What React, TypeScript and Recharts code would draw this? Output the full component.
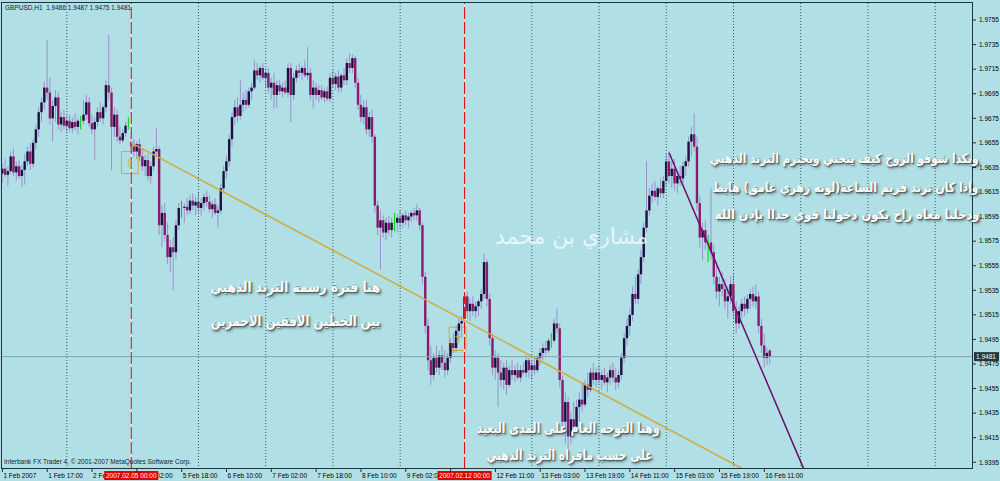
import React from 'react';
import { ComposedChart, Bar, XAxis, YAxis, ReferenceLine, ReferenceArea } from 'recharts';

// GBPUSD H1, 1 Feb 01:00 .. 16 Feb 13:00 (one entry per hourly bar)
const opens = [
  1.9630, 1.9634, 1.9629, 1.9632, 1.9644, 1.9631, 1.9636, 1.9628, 1.9633, 1.9640, 1.9648, 1.9638, 1.9655, 1.9666, 1.9680, 1.9688,
  1.9700, 1.9696, 1.9675, 1.9685, 1.9692, 1.9670, 1.9676, 1.9669, 1.9673, 1.9667, 1.9672, 1.9668, 1.9673, 1.9673, 1.9678, 1.9688,
  1.9671, 1.9666, 1.9672, 1.9680, 1.9675, 1.9684, 1.9702, 1.9696, 1.9668, 1.9678, 1.9660, 1.9657, 1.9663, 1.9669,
  1.9656, 1.9652, 1.9648, 1.9654, 1.9644, 1.9636, 1.9641, 1.9628, 1.9636, 1.9648, 1.9650, 1.9588, 1.9598, 1.9580, 1.9562, 1.9570,
  1.9566, 1.9588, 1.9602, 1.9602, 1.9603, 1.9600, 1.9608, 1.9604,
  1.9607, 1.9602, 1.9606, 1.9611, 1.9607, 1.9601, 1.9605, 1.9598, 1.9600, 1.9618, 1.9632, 1.9640, 1.9658, 1.9676, 1.9684, 1.9677,
  1.9686, 1.9690, 1.9686, 1.9697, 1.9700, 1.9714, 1.9710, 1.9716,
  1.9708, 1.9712, 1.9700, 1.9704, 1.9694, 1.9702, 1.9697, 1.9700, 1.9696, 1.9716, 1.9694, 1.9708, 1.9714, 1.9712, 1.9716, 1.9710,
  1.9712, 1.9694, 1.9700, 1.9694, 1.9698, 1.9692, 1.9697, 1.9691,
  1.9708, 1.9703, 1.9709, 1.9700, 1.9710, 1.9706, 1.9720, 1.9716, 1.9724, 1.9704, 1.9686, 1.9676, 1.9684, 1.9666, 1.9676, 1.9660,
  1.9604, 1.9586, 1.9592, 1.9582, 1.9590, 1.9584, 1.9590, 1.9590,
  1.9594, 1.9590, 1.9596, 1.9592, 1.9595, 1.9598, 1.9596, 1.9600, 1.9588, 1.9546, 1.9506, 1.9478, 1.9466, 1.9480, 1.9472, 1.9482,
  1.9476, 1.9470, 1.9480, 1.9492, 1.9488, 1.9502, 1.9508,
  1.9512, 1.9530, 1.9518, 1.9524, 1.9518, 1.9522, 1.9526, 1.9532, 1.9558, 1.9528, 1.9496, 1.9472, 1.9480, 1.9468, 1.9462, 1.9472,
  1.9458, 1.9470, 1.9466, 1.9470, 1.9464, 1.9470, 1.9468, 1.9478,
  1.9470, 1.9474, 1.9470, 1.9480, 1.9484, 1.9488, 1.9486, 1.9494, 1.9494, 1.9508, 1.9504, 1.9462, 1.9428, 1.9444, 1.9416, 1.9430,
  1.9424, 1.9440, 1.9446, 1.9442, 1.9458, 1.9454, 1.9468, 1.9462,
  1.9468, 1.9462, 1.9466, 1.9460, 1.9464, 1.9470, 1.9464, 1.9460, 1.9466, 1.9480, 1.9496, 1.9506, 1.9515, 1.9532, 1.9528, 1.9548,
  1.9562, 1.9586, 1.9600, 1.9612, 1.9616, 1.9611, 1.9618, 1.9614,
  1.9624, 1.9640, 1.9628, 1.9634, 1.9622, 1.9628, 1.9626, 1.9636, 1.9640, 1.9656, 1.9662, 1.9652, 1.9606, 1.9578, 1.9584, 1.9574,
  1.9574, 1.9566, 1.9546, 1.9534, 1.9540, 1.9536, 1.9526, 1.9530,
  1.9540, 1.9518, 1.9508, 1.9518, 1.9524, 1.9520, 1.9528, 1.9532, 1.9526, 1.9530, 1.9506, 1.9490, 1.9480, 1.9486,
];
const highs = [
  1.9638, 1.9642, 1.9636, 1.9648, 1.9650, 1.9640, 1.9641, 1.9637, 1.9646, 1.9652, 1.9655, 1.9658, 1.9670, 1.9684, 1.9692, 1.9705,
  1.9739, 1.9708, 1.9690, 1.9698, 1.9696, 1.9680, 1.9682, 1.9677, 1.9678, 1.9676, 1.9679, 1.9675, 1.9677, 1.9690, 1.9694, 1.9692,
  1.9678, 1.9676, 1.9684, 1.9688, 1.9686, 1.9706, 1.9743, 1.9700, 1.9684, 1.9682, 1.9668, 1.9666, 1.9672, 1.9676,
  1.9660, 1.9658, 1.9656, 1.9658, 1.9650, 1.9645, 1.9646, 1.9640, 1.9652, 1.9667, 1.9652, 1.9604, 1.9606, 1.9590, 1.9576, 1.9578,
  1.9592, 1.9606, 1.9608, 1.9606, 1.9610, 1.9612, 1.9614, 1.9611,
  1.9615, 1.9610, 1.9614, 1.9616, 1.9612, 1.9608, 1.9610, 1.9604, 1.9622, 1.9636, 1.9645, 1.9662, 1.9680, 1.9690, 1.9692, 1.9706,
  1.9696, 1.9698, 1.9700, 1.9704, 1.9722, 1.9720, 1.9718, 1.9720,
  1.9716, 1.9716, 1.9708, 1.9712, 1.9706, 1.9706, 1.9704, 1.9706, 1.9720, 1.9720, 1.9712, 1.9718, 1.9720, 1.9718, 1.9722, 1.9733,
  1.9716, 1.9706, 1.9704, 1.9702, 1.9702, 1.9700, 1.9701, 1.9712,
  1.9714, 1.9712, 1.9714, 1.9712, 1.9716, 1.9724, 1.9728, 1.9727, 1.9726, 1.9708, 1.9694, 1.9690, 1.9690, 1.9680, 1.9682, 1.9662,
  1.9608, 1.9600, 1.9596, 1.9594, 1.9596, 1.9594, 1.9598, 1.9597,
  1.9600, 1.9598, 1.9600, 1.9598, 1.9600, 1.9602, 1.9605, 1.9602, 1.9590, 1.9550, 1.9512, 1.9490, 1.9484, 1.9490, 1.9486, 1.9490,
  1.9486, 1.9484, 1.9496, 1.9500, 1.9506, 1.9512, 1.9514,
  1.9540, 1.9534, 1.9528, 1.9530, 1.9526, 1.9528, 1.9536, 1.9565, 1.9560, 1.9532, 1.9500, 1.9486, 1.9484, 1.9478, 1.9476, 1.9478,
  1.9474, 1.9478, 1.9474, 1.9476, 1.9474, 1.9476, 1.9482, 1.9480,
  1.9478, 1.9480, 1.9482, 1.9488, 1.9492, 1.9494, 1.9496, 1.9500, 1.9512, 1.9520, 1.9508, 1.9466, 1.9452, 1.9448, 1.9436, 1.9444,
  1.9446, 1.9452, 1.9460, 1.9462, 1.9468, 1.9472, 1.9476, 1.9472,
  1.9474, 1.9470, 1.9472, 1.9468, 1.9474, 1.9476, 1.9472, 1.9470, 1.9484, 1.9500, 1.9512, 1.9520, 1.9538, 1.9546, 1.9552, 1.9568,
  1.9590, 1.9640, 1.9618, 1.9622, 1.9624, 1.9620, 1.9626, 1.9628,
  1.9646, 1.9648, 1.9640, 1.9642, 1.9632, 1.9636, 1.9640, 1.9644, 1.9660, 1.9668, 1.9679, 1.9660, 1.9612, 1.9590, 1.9592, 1.9580,
  1.9618, 1.9572, 1.9556, 1.9546, 1.9550, 1.9544, 1.9538, 1.9546,
  1.9548, 1.9526, 1.9522, 1.9528, 1.9530, 1.9532, 1.9536, 1.9538, 1.9540, 1.9534, 1.9512, 1.9500, 1.9488, 1.9487,
];
const lows = [
  1.9622, 1.9627, 1.9620, 1.9630, 1.9628, 1.9624, 1.9626, 1.9619, 1.9621, 1.9636, 1.9633, 1.9635, 1.9650, 1.9660, 1.9672, 1.9682,
  1.9690, 1.9670, 1.9656, 1.9672, 1.9666, 1.9664, 1.9666, 1.9664, 1.9665, 1.9663, 1.9665, 1.9662, 1.9666, 1.9670, 1.9674, 1.9668,
  1.9662, 1.9641, 1.9668, 1.9672, 1.9670, 1.9680, 1.9690, 1.9633, 1.9660, 1.9656, 1.9654, 1.9655, 1.9660, 1.9666,
  1.9648, 1.9644, 1.9642, 1.9640, 1.9632, 1.9628, 1.9624, 1.9622, 1.9632, 1.9644, 1.9580, 1.9570, 1.9575, 1.9556, 1.9550, 1.9535,
  1.9560, 1.9584, 1.9594, 1.9590, 1.9596, 1.9597, 1.9600, 1.9596,
  1.9598, 1.9596, 1.9600, 1.9603, 1.9598, 1.9594, 1.9596, 1.9586, 1.9597, 1.9614, 1.9626, 1.9636, 1.9652, 1.9670, 1.9672, 1.9674,
  1.9680, 1.9682, 1.9684, 1.9690, 1.9698, 1.9706, 1.9704, 1.9706,
  1.9700, 1.9696, 1.9690, 1.9683, 1.9684, 1.9694, 1.9692, 1.9694, 1.9692, 1.9672, 1.9690, 1.9704, 1.9708, 1.9706, 1.9708, 1.9706,
  1.9690, 1.9683, 1.9690, 1.9688, 1.9690, 1.9688, 1.9689, 1.9688,
  1.9700, 1.9698, 1.9696, 1.9696, 1.9702, 1.9702, 1.9712, 1.9712, 1.9700, 1.9682, 1.9672, 1.9670, 1.9662, 1.9660, 1.9655, 1.9598,
  1.9580, 1.9552, 1.9578, 1.9576, 1.9580, 1.9578, 1.9583, 1.9582,
  1.9586, 1.9586, 1.9588, 1.9586, 1.9590, 1.9592, 1.9592, 1.9584, 1.9540, 1.9500, 1.9470, 1.9458, 1.9462, 1.9468, 1.9466, 1.9470,
  1.9464, 1.9466, 1.9476, 1.9484, 1.9484, 1.9494, 1.9496,
  1.9508, 1.9512, 1.9510, 1.9514, 1.9512, 1.9514, 1.9520, 1.9528, 1.9522, 1.9490, 1.9466, 1.9462, 1.9440, 1.9456, 1.9454, 1.9450,
  1.9456, 1.9462, 1.9460, 1.9462, 1.9460, 1.9466, 1.9464, 1.9464,
  1.9462, 1.9466, 1.9468, 1.9474, 1.9478, 1.9482, 1.9484, 1.9488, 1.9492, 1.9500, 1.9456, 1.9420, 1.9410, 1.9402, 1.9410, 1.9418,
  1.9420, 1.9428, 1.9436, 1.9440, 1.9448, 1.9452, 1.9458, 1.9456,
  1.9458, 1.9454, 1.9458, 1.9452, 1.9458, 1.9460, 1.9454, 1.9456, 1.9462, 1.9476, 1.9490, 1.9498, 1.9510, 1.9524, 1.9524, 1.9540,
  1.9558, 1.9582, 1.9596, 1.9606, 1.9608, 1.9604, 1.9610, 1.9610,
  1.9620, 1.9622, 1.9618, 1.9616, 1.9614, 1.9620, 1.9622, 1.9628, 1.9636, 1.9644, 1.9648, 1.9600, 1.9570, 1.9560, 1.9568, 1.9558,
  1.9560, 1.9540, 1.9528, 1.9522, 1.9530, 1.9520, 1.9512, 1.9524,
  1.9512, 1.9500, 1.9504, 1.9512, 1.9514, 1.9516, 1.9520, 1.9522, 1.9520, 1.9500, 1.9484, 1.9472, 1.9474, 1.9475,
];
const closes = [
  1.9634, 1.9629, 1.9632, 1.9644, 1.9631, 1.9636, 1.9628, 1.9633, 1.9640, 1.9648, 1.9638, 1.9655, 1.9666, 1.9680, 1.9688, 1.9700,
  1.9696, 1.9675, 1.9685, 1.9692, 1.9670, 1.9676, 1.9669, 1.9673, 1.9667, 1.9672, 1.9668, 1.9673, 1.9673, 1.9678, 1.9688, 1.9671,
  1.9666, 1.9672, 1.9680, 1.9675, 1.9684, 1.9702, 1.9696, 1.9668, 1.9678, 1.9660, 1.9657, 1.9663, 1.9669, 1.9669,
  1.9652, 1.9648, 1.9654, 1.9644, 1.9636, 1.9641, 1.9628, 1.9636, 1.9648, 1.9650, 1.9588, 1.9598, 1.9580, 1.9562, 1.9570, 1.9566,
  1.9588, 1.9602, 1.9602, 1.9603, 1.9600, 1.9608, 1.9604, 1.9607,
  1.9602, 1.9606, 1.9611, 1.9607, 1.9601, 1.9605, 1.9598, 1.9600, 1.9618, 1.9632, 1.9640, 1.9658, 1.9676, 1.9684, 1.9677, 1.9686,
  1.9690, 1.9686, 1.9697, 1.9700, 1.9714, 1.9710, 1.9716, 1.9708,
  1.9712, 1.9700, 1.9704, 1.9694, 1.9702, 1.9697, 1.9700, 1.9696, 1.9716, 1.9694, 1.9708, 1.9714, 1.9712, 1.9716, 1.9710, 1.9712,
  1.9694, 1.9700, 1.9694, 1.9698, 1.9692, 1.9697, 1.9691, 1.9708,
  1.9703, 1.9709, 1.9700, 1.9710, 1.9706, 1.9720, 1.9716, 1.9724, 1.9704, 1.9686, 1.9676, 1.9684, 1.9666, 1.9676, 1.9660, 1.9604,
  1.9586, 1.9592, 1.9582, 1.9590, 1.9584, 1.9590, 1.9590, 1.9594,
  1.9590, 1.9596, 1.9592, 1.9595, 1.9598, 1.9596, 1.9600, 1.9588, 1.9546, 1.9506, 1.9478, 1.9466, 1.9480, 1.9472, 1.9482, 1.9476,
  1.9470, 1.9480, 1.9492, 1.9488, 1.9502, 1.9508, 1.9510,
  1.9530, 1.9518, 1.9524, 1.9518, 1.9522, 1.9526, 1.9532, 1.9558, 1.9528, 1.9496, 1.9472, 1.9480, 1.9468, 1.9462, 1.9472, 1.9458,
  1.9470, 1.9466, 1.9470, 1.9464, 1.9470, 1.9468, 1.9478, 1.9470,
  1.9474, 1.9470, 1.9480, 1.9484, 1.9488, 1.9486, 1.9494, 1.9494, 1.9508, 1.9504, 1.9462, 1.9428, 1.9444, 1.9416, 1.9430, 1.9424,
  1.9440, 1.9446, 1.9442, 1.9458, 1.9454, 1.9468, 1.9462, 1.9468,
  1.9462, 1.9466, 1.9460, 1.9464, 1.9470, 1.9464, 1.9460, 1.9466, 1.9480, 1.9496, 1.9506, 1.9515, 1.9532, 1.9528, 1.9548, 1.9562,
  1.9586, 1.9600, 1.9612, 1.9616, 1.9611, 1.9618, 1.9614, 1.9624,
  1.9640, 1.9628, 1.9634, 1.9622, 1.9628, 1.9626, 1.9636, 1.9640, 1.9656, 1.9662, 1.9652, 1.9606, 1.9578, 1.9584, 1.9574, 1.9574,
  1.9566, 1.9546, 1.9534, 1.9540, 1.9536, 1.9526, 1.9530, 1.9540,
  1.9518, 1.9508, 1.9518, 1.9524, 1.9520, 1.9528, 1.9532, 1.9526, 1.9530, 1.9506, 1.9490, 1.9480, 1.9484, 1.9481,
];

// hourly slots on the time axis, including the empty shift area on the right
const slotCount = 347;
const timeTicks = [0, 16, 32, 48, 64, 80, 96, 112, 128, 144, 160, 176, 192, 208, 224, 240, 256, 272];
const timeLabels = [
  '1 Feb 2007', '1 Feb 17:00', '2 Feb 09:00', '5 Feb 02:00', '5 Feb 18:00', '6 Feb 10:00', '7 Feb 02:00', '7 Feb 18:00',
  '8 Feb 10:00', '9 Feb 02:00', '9 Feb 18:00', '12 Feb 11:00', '13 Feb 03:00', '13 Feb 19:00', '14 Feb 11:00',
  '15 Feb 03:00', '15 Feb 19:00', '16 Feb 11:00',
];
const dayStarts = [23, 70, 94, 118, 142, 189, 213, 237, 261, 285, 309, 333];
const weekStarts = [46, 165];
const weekLabels = ['2007.02.05 00:00', '2007.02.12 00:00'];
const priceTicks = [
  1.9395, 1.9415, 1.9435, 1.9455, 1.9475, 1.9495, 1.9515, 1.9535, 1.9555, 1.9575,
  1.9595, 1.9615, 1.9635, 1.9655, 1.9675, 1.9695, 1.9715, 1.9735, 1.9755,
];
const lastPrice = 1.9481;
const goldTrend = [{ x: 46, y: 1.9655 }, { x: 264, y: 1.9390 }];
const hourTrend = [{ x: 238, y: 1.9647 }, { x: 286, y: 1.9390 }];

const data = Array.from({ length: slotCount }, (_, i) =>
  i < closes.length
    ? { i, range: [lows[i], highs[i]], open: opens[i], high: highs[i], low: lows[i], close: closes[i] }
    : { i, range: null }
);

const axisFont = 'Liberation Sans, Arial, sans-serif';
const bg = '#B0E0E6';
const plotW = 972;
const flagHalf = 27;

function Candle(props: any) {
  const { x, y, width, height, payload } = props;
  if (!payload || payload.range == null) return null;
  const { open, high, low, close } = payload;
  const top = Math.min(y, y + height);
  const h = Math.abs(height);
  const cx = x + width / 2;
  const span = high - low || 1;
  const yOf = (v: number) => top + ((high - v) / span) * h;
  const yo = yOf(open);
  const yc = yOf(close);
  const doji = open === close;
  return (
    <g>
      <line x1={cx} x2={cx} y1={top} y2={top + h} stroke={doji ? '#00d000' : '#9a90cc'} strokeWidth={1} />
      {!doji && (
        <rect
          x={cx - 1.2}
          y={Math.min(yo, yc)}
          width={2.4}
          height={Math.max(Math.abs(yc - yo), 1)}
          fill={close > open ? '#1c1040' : '#8a1a6e'}
        />
      )}
    </g>
  );
}

// labels under the red week-start flags are hidden the way the terminal does it
function TimeTick(props: any) {
  const { x, y, payload } = props;
  const k = timeTicks.indexOf(payload.value);
  if (k < 0) return null;
  const band = plotW / slotCount;
  const w = weekStarts.find((s) => Math.abs(s - payload.value) < 24);
  let clip: any = null;
  if (w !== undefined) {
    const fx = x + (w - payload.value) * band;
    if (payload.value < w) {
      if (x >= fx - flagHalf) return null;
      clip = { x: 0, w: fx - flagHalf };
    } else {
      clip = { x: fx + flagHalf, w: 1000 };
    }
  }
  const id = 'tclip' + payload.value;
  return (
    <g>
      {clip && (
        <defs>
          <clipPath id={id}>
            <rect x={clip.x} y={y - 10} width={clip.w} height={30} />
          </clipPath>
        </defs>
      )}
      <text
        x={x + 1}
        y={y + 4}
        fontSize={6.5}
        fontFamily={axisFont}
        fill="#000"
        textAnchor="start"
        clipPath={clip ? `url(#${id})` : undefined}
      >
        {timeLabels[k]}
      </text>
    </g>
  );
}

function WeekFlag(props: any) {
  const { viewBox, text } = props;
  const cx = viewBox.x;
  const bottom = viewBox.y + viewBox.height;
  return (
    <g>
      <rect x={cx - flagHalf} y={bottom + 2} width={flagHalf * 2} height={9} fill="#e00000" />
      <text x={cx} y={bottom + 9} fontSize={6.5} fontFamily={axisFont} fill="#fff" textAnchor="middle">
        {text}
      </text>
    </g>
  );
}

function PriceFlag(props: any) {
  const { viewBox } = props;
  const x = viewBox.x + viewBox.width + 1;
  const y = viewBox.y;
  return (
    <g>
      <rect x={x} y={y - 4.5} width={25} height={9} fill="#1f3a40" />
      <text x={x + 2} y={y + 2.5} fontSize={6.5} fontFamily={axisFont} fill="#fff">
        {lastPrice.toFixed(4)}
      </text>
    </g>
  );
}

function Note({ right, cy, size, squeeze = 1, children, faint }: any) {
  return (
    <div
      style={{
        position: 'absolute',
        right: 1000 - right,
        top: cy - size * 0.75,
        fontFamily: 'DejaVu Sans, sans-serif',
        fontWeight: faint ? 'normal' : 'bold',
        fontSize: size,
        lineHeight: `${size * 1.5}px`,
        color: faint ? 'rgba(255,255,255,0.72)' : '#ffffff',
        textShadow: faint ? 'none' : '1px 1px 1px #555, 2px 2px 3px rgba(0,0,0,0.45)',
        whiteSpace: 'nowrap',
        direction: 'rtl',
        transform: `scaleX(${squeeze})`,
        transformOrigin: 'right center',
        pointerEvents: 'none',
      }}
    >
      {children}
    </div>
  );
}

export default function App() {
  return (
    <div style={{ position: 'absolute', left: 0, top: 0, width: 1000, height: 481, background: bg, overflow: 'hidden' }}>
      <ComposedChart width={1000} height={481} data={data} margin={{ top: 2, right: 0, bottom: 0, left: 1 }}>
        <XAxis
          dataKey="i"
          type="category"
          ticks={timeTicks}
          interval={0}
          height={12}
          axisLine={false}
          tickSize={3}
          tickLine={{ stroke: '#203040' }}
          tick={<TimeTick />}
        />
        <YAxis
          orientation="right"
          type="number"
          domain={[1.93895, 1.97697]}
          allowDataOverflow
          ticks={priceTicks}
          interval={0}
          width={27}
          axisLine={false}
          tickSize={3}
          tickMargin={3}
          tickLine={{ stroke: '#203040' }}
          tick={{ fontSize: 6.5, fill: '#000', fontFamily: axisFont }}
          tickFormatter={(v: number) => v.toFixed(4)}
        />
        {dayStarts.map((d) => (
          <ReferenceLine key={d} x={d} stroke="#2f5a62" strokeDasharray="1 2" />
        ))}
        <ReferenceLine y={lastPrice} stroke="#8aa2a8" label={<PriceFlag />} />
        <Bar dataKey="range" shape={<Candle />} isAnimationActive={false} />
        {weekStarts.map((w) => (
          <ReferenceLine key={'w' + w} x={w} stroke="#f4e8e8" />
        ))}
        {weekStarts.map((w, k) => (
          <ReferenceLine
            key={'r' + w}
            x={w}
            stroke="#e00000"
            strokeDasharray="12 3"
            label={<WeekFlag text={weekLabels[k]} />}
          />
        ))}
        <ReferenceArea x1={43} x2={48} y1={1.9630} y2={1.9648} fill="none" stroke="#d4a838" ifOverflow="visible"
          label={{ value: '⇧', position: 'center', fill: '#d4a838', fontSize: 12 }} />
        <ReferenceArea x1={160} x2={165} y1={1.9486} y2={1.9505} fill="none" stroke="#d4a838" ifOverflow="visible"
          label={{ value: '⇧', position: 'center', fill: '#d4a838', fontSize: 12 }} />
        <ReferenceLine segment={goldTrend} stroke="#d4a838" strokeWidth={1.5} ifOverflow="hidden" />
        <ReferenceLine segment={hourTrend} stroke="#700a70" strokeWidth={1.5} ifOverflow="hidden" />
      </ComposedChart>

      <div style={{ position: 'absolute', left: 1, top: 2, width: 972, height: 467, border: '1px solid #1f3340', boxSizing: 'border-box', pointerEvents: 'none' }} />
      <div style={{ position: 'absolute', left: 5, top: 4, fontSize: 6.5, fontFamily: axisFont, color: '#102030', whiteSpace: 'pre' }}>
        GBPUSD,H1  1.9486 1.9487 1.9475 1.9481
      </div>
      <div style={{ position: 'absolute', left: 4, top: 458, fontSize: 6.5, fontFamily: axisFont, color: '#102030', whiteSpace: 'pre' }}>
        Interbank FX Trader 4, © 2001-2007 MetaQuotes Software Corp.
      </div>

      <Note right={648} cy={236} size={22} faint>مشاري بن محمد</Note>
      <Note right={380} cy={287} size={14} squeeze={0.86}>هنا فترة رسمة الترند الذهبي</Note>
      <Note right={380} cy={321} size={14} squeeze={0.83}>بين الخطين الافقين الاحمرين</Note>
      <Note right={660} cy={428} size={14} squeeze={0.77}>وهنا التوجه العام على المدى البعيد</Note>
      <Note right={653} cy={455} size={14} squeeze={0.76}>على حسب ماقراه الترند الذهبي</Note>
      <Note right={979} cy={159} size={13} squeeze={0.82}>وبكذا شوفو الزوج كيف ينحني ويحترم الترند الذهبي</Note>
      <Note right={979} cy={188} size={13} squeeze={0.83}>وإذا كان ترند فريم الساعة(لونه زهري غامق) هابط</Note>
      <Note right={979} cy={215} size={13} squeeze={0.88}>ودخلنا معاه راح يكون دخولنا قوي جداا بإذن الله</Note>
    </div>
  );
}
